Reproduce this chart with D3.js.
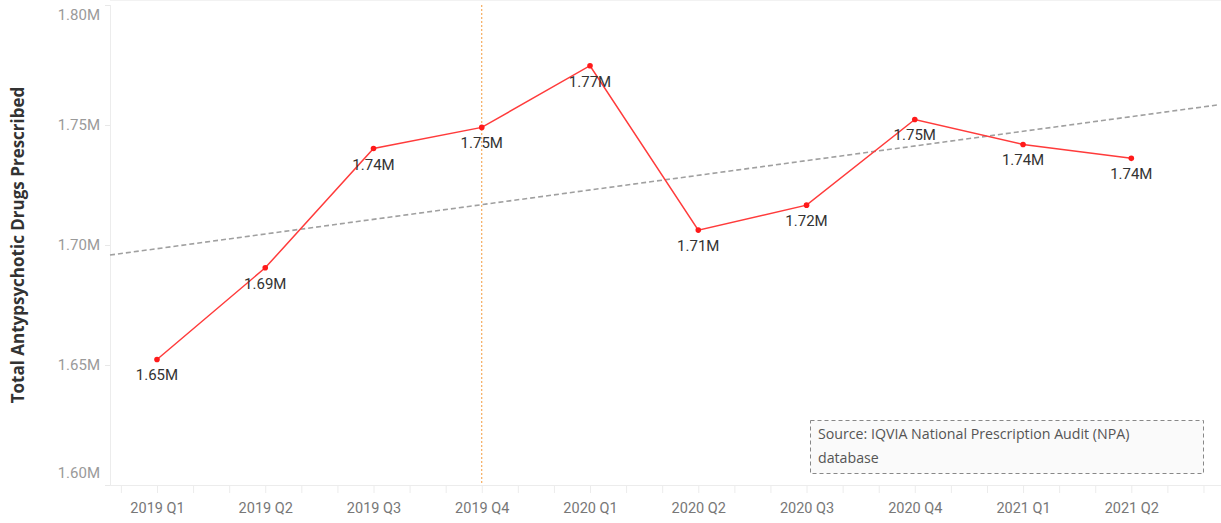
<!DOCTYPE html>
<html>
<head>
<meta charset="utf-8">
<script src="https://cdn.jsdelivr.net/npm/d3@7"></script>
<style>
  body { margin: 0; background: #fff; }
  svg { display: block; font-family: Roboto, sans-serif; }
</style>
</head>
<body>
<script>
var width = 1221,
    height = 523;

// quarters and totals (millions)
var quarters = ["2019 Q1", "2019 Q2", "2019 Q3", "2019 Q4", "2020 Q1",
                "2020 Q2", "2020 Q3", "2020 Q4", "2021 Q1", "2021 Q2"];
var totals = [1.6523, 1.6905, 1.7402, 1.7490, 1.7747,
              1.7062, 1.7166, 1.7523, 1.7419, 1.7361];
var yTicks = [1.60, 1.65, 1.70, 1.75, 1.80];
var markQuarter = "2019 Q4";
var sourceLines = ["Source: IQVIA National Prescription Audit (NPA)", "database"];

// plot edges (don't use "top", it's window.top)
var plotL = 110, plotR = 1219, plotT = 5, plotB = 485;

var svg = d3.select("body").append("svg")
    .attr("width", width)
    .attr("height", height);

// x is continuous in quarters, index 0 = 2019 Q1
var x = d3.scaleLinear().domain([-0.434, 9.81]).range([plotL, plotR]);
var y = d3.scaleLinear().domain([1.60, 1.80]).range([plotB, plotT]);

var fmt = function (v) { return v.toFixed(2) + "M"; };

// frame lines
svg.append("line").attr("x1", plotL).attr("x2", width).attr("y1", 0.5).attr("y2", 0.5)
    .attr("stroke", "#f2f2f2");
svg.append("line").attr("x1", plotL + 0.5).attr("x2", plotL + 0.5).attr("y1", plotT).attr("y2", plotB)
    .attr("stroke", "#ececec");
svg.append("line").attr("x1", plotL).attr("x2", width).attr("y1", plotB + 0.5).attr("y2", plotB + 0.5)
    .attr("stroke", "#ececec");

// y axis
var yAxis = svg.append("g").attr("transform", "translate(" + plotL + ",0)")
    .call(d3.axisLeft(y).tickValues(yTicks).tickFormat(fmt).tickSize(5).tickPadding(5));
yAxis.select(".domain").remove();
yAxis.selectAll(".tick line").attr("stroke", "#e8e8e8");
yAxis.selectAll(".tick text")
    .attr("fill", "#9a9a9a")
    .style("font-size", "15px")
    .style("font-family", "Roboto, sans-serif")
    .attr("dy", function (d) {
        if (d === 1.80) return "0.95em";
        if (d === 1.60) return "-0.5em";
        return "0.32em";
    });

// x axis, monthly ticks with labels on the quarters
var monthTicks = d3.range(-1, 30).map(function (m) { return m / 3; });
var xAxis = svg.append("g").attr("transform", "translate(0," + plotB + ")")
    .call(d3.axisBottom(x).tickValues(monthTicks).tickSize(8).tickPadding(10)
        .tickFormat(function (d) {
            var i = Math.round(d);
            return (Math.abs(d - i) < 1e-6 && i >= 0 && i < quarters.length) ? quarters[i] : "";
        }));
xAxis.select(".domain").remove();
xAxis.selectAll(".tick line").attr("stroke", "#ececec");
xAxis.selectAll(".tick text")
    .attr("fill", "#777")
    .style("font-size", "14.5px")
    .style("font-family", "Roboto, sans-serif");

// y axis title
svg.append("text")
    .attr("transform", "translate(24," + ((plotT + plotB) / 2) + ") rotate(-90)")
    .attr("text-anchor", "middle")
    .attr("fill", "#333")
    .style("font-size", "17px")
    .style("font-weight", "bold")
    .style("font-family", "'Open Sans', sans-serif")
    .text("Total Antypsychotic Drugs Prescribed");

// reference line at 2019 Q4
svg.append("line")
    .attr("x1", x(quarters.indexOf(markQuarter)))
    .attr("x2", x(quarters.indexOf(markQuarter)))
    .attr("y1", plotT)
    .attr("y2", plotB)
    .attr("stroke", "#f39a3c")
    .attr("stroke-width", 1)
    .attr("stroke-dasharray", "2,2");

// linear trend line from the data
var mx = d3.mean(quarters, function (d, i) { return i; });
var my = d3.mean(totals);
var sxy = d3.sum(totals, function (v, i) { return (i - mx) * (v - my); });
var sxx = d3.sum(totals, function (v, i) { return (i - mx) * (i - mx); });
var slope = sxy / sxx, icpt = my - slope * mx;
var xd = x.domain();
svg.append("line")
    .attr("x1", x(xd[0])).attr("y1", y(icpt + slope * xd[0]))
    .attr("x2", x(xd[1])).attr("y2", y(icpt + slope * xd[1]))
    .attr("stroke", "#a0a0a0")
    .attr("stroke-width", 1.6)
    .attr("stroke-dasharray", "5,3");

// series line
var line = d3.line()
    .x(function (d, i) { return x(i); })
    .y(function (d) { return y(d); });

svg.append("path")
    .datum(totals)
    .attr("d", line)
    .attr("fill", "none")
    .attr("stroke", "#ff3b3b")
    .attr("stroke-width", 1.5);

svg.append("g").selectAll("circle")
    .data(totals)
    .enter().append("circle")
    .attr("cx", function (d, i) { return x(i); })
    .attr("cy", function (d) { return y(d); })
    .attr("r", 2.8)
    .attr("fill", "#ff1a1a");

svg.append("g").selectAll("text")
    .data(totals)
    .enter().append("text")
    .attr("x", function (d, i) { return x(i); })
    .attr("y", function (d) { return y(d) + 21; })
    .attr("text-anchor", "middle")
    .attr("fill", "#333")
    .style("font-size", "15px")
    .text(function (d) { return fmt(d); });

// source box
var box = svg.append("g").attr("transform", "translate(810,420)");
box.append("rect")
    .attr("x", 0.5).attr("y", 0.5)
    .attr("width", 393).attr("height", 53)
    .attr("fill", "#fafafa")
    .attr("stroke", "#888")
    .attr("stroke-dasharray", "4,3");
box.selectAll("text")
    .data(sourceLines)
    .enter().append("text")
    .attr("x", 8)
    .attr("y", function (d, i) { return 19 + i * 24; })
    .attr("fill", "#555")
    .style("font-size", "14.2px")
    .style("font-family", "'Open Sans', sans-serif")
    .text(function (d) { return d; });
</script>
</body>
</html>
